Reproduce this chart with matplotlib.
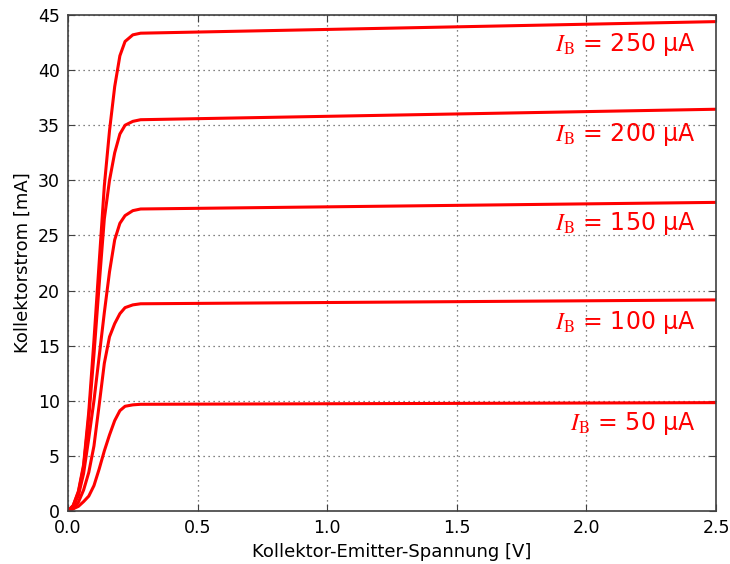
import numpy as np
import matplotlib
matplotlib.use('Agg')
import matplotlib.pyplot as plt

plt.rcParams['font.family'] = ['Liberation Sans Narrow', 'DejaVu Sans']
plt.rcParams['mathtext.fontset'] = 'stix'

# Kollektor-Emitter-Spannung [V]
u_ce = [0, 0.02, 0.04, 0.06, 0.08, 0.10, 0.12, 0.14, 0.16, 0.18,
        0.20, 0.22, 0.25, 0.28, 2.5]

# Kollektorstrom [mA] je Basisstrom
i_b = [50, 100, 150, 200, 250]
i_c_50 = [0, 0.2, 0.42, 0.85, 1.35, 2.3, 3.8, 5.45, 6.9, 8.2,
          9.1, 9.5, 9.63, 9.68, 9.83]
i_c_100 = [0, 0.2, 0.8, 1.9, 3.5, 5.9, 9.6, 13.4, 15.8, 17.0,
           17.9, 18.45, 18.7, 18.8, 19.15]
i_c_150 = [0, 0.4, 1.4, 3.4, 6.6, 10.0, 14.0, 18.0, 21.7, 24.6,
           26.1, 26.8, 27.25, 27.4, 28.0]
i_c_200 = [0, 0.5, 1.7, 4.0, 8.5, 14.2, 20.5, 26.5, 30.0, 32.5,
           34.2, 35.0, 35.35, 35.5, 36.45]
i_c_250 = [0, 0.5, 1.8, 4.2, 9.0, 15.5, 22.5, 29.5, 34.5, 38.5,
           41.3, 42.6, 43.2, 43.35, 44.4]
label_y = [7.9, 17.1, 26.1, 34.2, 42.3]

fig = plt.figure(figsize=(7.3, 5.64), dpi=100)
ax = fig.add_axes([0.0932, 0.094, 0.8877, 0.8794])

for ic in [i_c_50, i_c_100, i_c_150, i_c_200, i_c_250]:
    ax.plot(u_ce, ic, color='red', linewidth=2.2)

# Beschriftung der Kennlinien
for ib, y in zip(i_b, label_y):
    ax.text(2.42, y, r'$I_\mathrm{B}$ = %d µA' % ib, color='red',
            fontsize=17, ha='right', va='center')

ax.set_xlim(0, 2.5)
ax.set_ylim(0, 45)
ax.set_xticks(np.arange(0, 2.51, 0.5))
ax.set_yticks(np.arange(0, 46, 5))
ax.grid(True, color='0.35', linestyle=(0, (1, 3)), linewidth=0.9)
for s in ax.spines.values():
    s.set_color('0.25')
    s.set_linewidth(1.2)
ax.tick_params(direction='in', top=True, right=True, length=5,
               color='0.25', labelsize=12.5, pad=6)

ax.set_xlabel('Kollektor-Emitter-Spannung [V]', fontsize=13)
ax.set_ylabel('Kollektorstrom [mA]', fontsize=13)

fig.savefig('out.png', dpi=100)
